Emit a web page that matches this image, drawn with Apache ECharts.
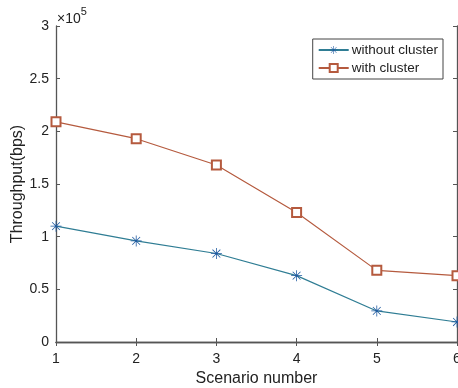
<!DOCTYPE html>
<html><head><meta charset="utf-8">
<script src="https://cdn.jsdelivr.net/npm/echarts@6/dist/echarts.min.js"></script>
<style>html,body{margin:0;padding:0;background:#fff}#c{width:458px;height:388px}</style>
</head><body><div id="c"></div>
<script>
const scenarios = [1, 2, 3, 4, 5, 6];
const withoutCluster = [110000, 96000, 84000, 63000, 29500, 19000];
const withCluster = [209000, 193000, 168000, 123000, 68000, 63000];
const yTicks = [0, 0.5, 1, 1.5, 2, 2.5, 3];
const seriesNames = ['without cluster', 'with cluster'];

const FONT = 'Liberation Sans, Arial, sans-serif';
const asterisk = 'path://M9.3,0h1.4v20h-1.4z M0,9.3h20v1.4h-20z M2.4,3.4l1,-1l14.2,14.2l-1,1z M16.6,2.4l1,1l-14.2,14.2l-1,-1z';

const chart = echarts.init(document.getElementById('c'), null, {renderer: 'canvas'});
const axisLine = {show: true, lineStyle: {color: '#555', width: 1.3}};
const tickInside = {show: true, inside: true, length: 4, lineStyle: {color: '#555'}};
chart.setOption({
  animation: false,
  backgroundColor: '#fff',
  grid: {left: 56, right: 1, top: 26, bottom: 46, containLabel: false, outerBoundsMode: 'none'},
  xAxis: [{
    type: 'value', min: 1, max: 6, interval: 1,
    name: 'Scenario number', nameLocation: 'middle', nameGap: 29, nameMoveOverlap: false,
    nameTextStyle: {fontFamily: FONT, fontSize: 16, color: '#222'},
    axisLine: axisLine, axisTick: tickInside, splitLine: {show: false},
    axisLabel: {fontFamily: FONT, fontSize: 14, color: '#222', margin: 10}
  }, {
    type: 'value', min: 1, max: 6, interval: 1, position: 'top',
    axisLine: axisLine, axisTick: tickInside, splitLine: {show: false},
    axisLabel: {show: false}
  }],
  yAxis: [{
    type: 'value', min: 0, max: 300000, interval: 50000,
    name: 'Throughput(bps)', nameLocation: 'middle', nameGap: 30, nameMoveOverlap: false,
    nameTextStyle: {fontFamily: FONT, fontSize: 16, color: '#222'},
    axisLine: axisLine, axisTick: tickInside, splitLine: {show: false},
    axisLabel: {fontFamily: FONT, fontSize: 14, color: '#222', margin: 7,
      formatter: v => { const t = v / 100000; const i = yTicks.findIndex(k => Math.abs(k - t) < 1e-9); return i >= 0 ? String(yTicks[i]) : ''; }}
  }, {
    type: 'value', min: 0, max: 300000, interval: 50000, position: 'right',
    axisLine: axisLine, axisTick: tickInside, splitLine: {show: false},
    axisLabel: {show: false}
  }],
  legend: {
    orient: 'vertical', right: 15, top: 39,
    backgroundColor: '#fff', borderColor: '#444', borderWidth: 1,
    padding: [4, 5, 4, 5], itemGap: 4, itemWidth: 30, itemHeight: 10,
    textStyle: {fontFamily: FONT, fontSize: 13.5, color: '#222', padding: [0, 0, 0, -2]},
    data: seriesNames
  },
  graphic: [{
    type: 'text', left: 57, top: 6,
    style: {
      text: '{a|×10}{b|5}', fontFamily: FONT,
      rich: {a: {fontSize: 14, fill: '#222', fontFamily: FONT, padding: [6, 0, 0, 0]},
             b: {fontSize: 11, fill: '#222', fontFamily: FONT, verticalAlign: 'top'}}
    }
  }],
  series: [{
    name: seriesNames[0], type: 'line',
    data: scenarios.map((x, i) => [x, withoutCluster[i]]),
    symbol: asterisk, symbolSize: 11, showAllSymbol: true,
    lineStyle: {color: '#2f7d94', width: 1.2},
    itemStyle: {color: '#1f5aa0', borderWidth: 0},
    z: 3
  }, {
    name: seriesNames[1], type: 'line',
    data: scenarios.map((x, i) => [x, withCluster[i]]),
    symbol: 'emptyRect', symbolSize: 9, showAllSymbol: true,
    lineStyle: {color: '#b55a3e', width: 1.2},
    itemStyle: {color: '#b55a3e', borderColor: '#b55a3e', borderWidth: 1.1},
    z: 3
  }]
});
</script></body></html>
